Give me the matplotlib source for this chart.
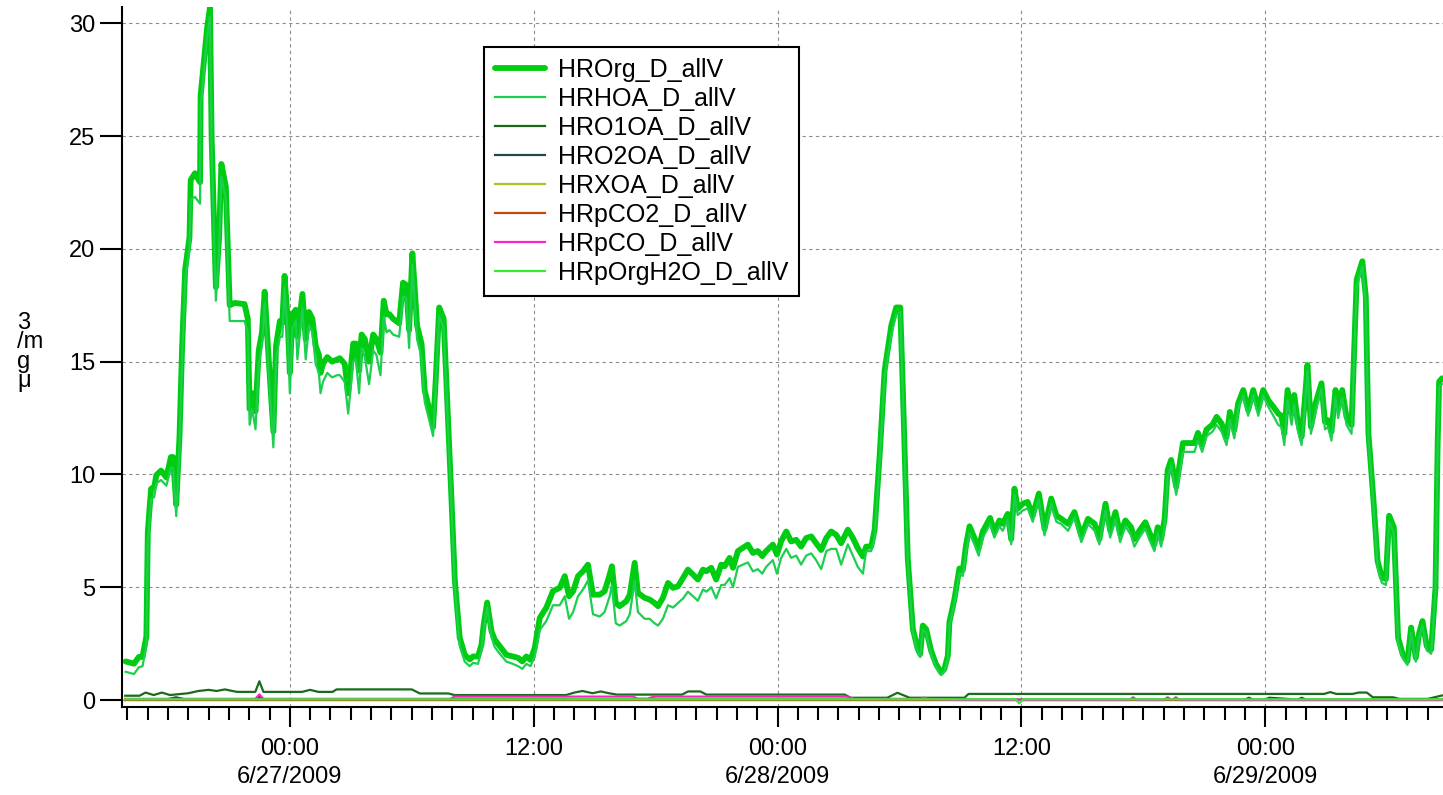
import numpy as np
import pandas as pd
import matplotlib
matplotlib.use("Agg")
import matplotlib.pyplot as plt
import matplotlib.dates as mdates

plt.rcParams['font.family'] = ['Liberation Sans', 'DejaVu Sans']

# time axis: hours relative to 6/27/2009 00:00
t0 = pd.Timestamp("2009-06-27 00:00")

org_hours = [
    -8.08, -7.67, -7.43, -7.25, -7.06, -6.99, -6.83, -6.67, -6.57, -6.34,
    -6.08, -5.85, -5.75, -5.59, -5.43, -5.30, -5.15, -4.94, -4.88, -4.67,
    -4.42, -4.39, -4.07, -3.93, -3.85, -3.64, -3.48, -3.37, -3.15, -2.96,
    -2.72, -2.23, -2.07, -1.98, -1.85, -1.69, -1.53, -1.37, -1.24, -1.04,
    -0.81, -0.68, -0.49, -0.37, -0.26, -0.11, 0.0, 0.13, 0.29, 0.37,
    0.62, 0.78, 0.94, 1.11, 1.27, 1.43, 1.51, 1.63, 1.84, 2.08, 2.33,
    2.46, 2.70, 2.87, 3.12, 3.25, 3.41, 3.53, 3.69, 3.90, 4.10,
    4.26, 4.46, 4.62, 4.76, 4.90, 5.08, 5.38, 5.57, 5.73, 5.87,
    6.03, 6.15, 6.26, 6.48, 6.64, 6.89, 7.05, 7.18, 7.35, 7.57,
    7.74, 7.95, 8.12, 8.36, 8.61, 8.85, 9.02, 9.26, 9.43, 9.54,
    9.71, 9.92, 10.08, 10.33, 10.66, 10.98, 11.23, 11.44, 11.64, 11.84,
    12.05, 12.30, 12.62, 12.95,
    13.28, 13.53, 13.74, 13.94, 14.18, 14.43, 14.67, 14.92, 15.25, 15.49,
    15.74, 15.85, 16.04, 16.23, 16.56, 16.73, 16.97, 17.13, 17.46, 17.71,
    17.95, 18.12, 18.36, 18.61, 18.86, 19.10, 19.35, 19.59, 19.84, 20.08,
    20.33, 20.50, 20.74, 20.98, 21.23, 21.40, 21.64, 21.81, 22.05, 22.30,
    22.54, 22.79, 23.03, 23.25, 23.44, 23.77, 23.97, 24.18,
    24.43, 24.67, 24.92, 25.16, 25.41, 25.66, 25.90, 26.15, 26.40, 26.64,
    26.89, 27.13, 27.46, 27.71, 27.95, 28.20, 28.36, 28.61, 28.78, 29.02,
    29.27, 29.60, 29.84, 30.04, 30.17, 30.41, 30.66, 30.90, 31.02, 31.15,
    31.31, 31.56, 31.80, 32.05, 32.21, 32.38, 32.46, 32.71, 32.95, 33.12,
    33.28, 33.45, 33.69, 33.90, 34.10, 34.46, 34.67,
    34.92, 35.08, 35.33, 35.50, 35.66, 35.82, 36.07, 36.31, 36.56, 36.86,
    37.14, 37.47, 37.72, 37.97, 38.30, 38.61, 38.95, 39.28, 39.61, 39.84,
    40.14, 40.37, 40.63, 40.86, 41.12, 41.40, 41.56, 41.81, 42.10, 42.30,
    42.55, 42.71, 42.88, 43.05, 43.20, 43.37, 43.62, 43.95, 44.52, 44.69,
    44.90, 45.11, 45.41,
    45.61, 45.85, 46.10, 46.26, 46.48, 46.67, 46.92, 47.16, 47.41, 47.66,
    47.90, 48.15, 48.40, 48.64, 48.80, 48.94, 49.10, 49.30, 49.43, 49.59,
    49.79, 49.95, 50.08, 50.25, 50.48, 50.77, 50.94, 51.10, 51.26, 51.46,
    51.59, 51.79, 52.00, 52.25, 52.50, 52.78, 52.95, 53.08, 53.33, 53.53,
    53.74, 53.94, 54.10, 54.33, 54.54, 54.77, 55.00, 55.18, 55.41, 55.58,
    55.74, 55.95, 56.17, 56.38, 56.49, 56.56, 56.70,
]

org_vals = [
    1.71, 1.61, 1.91, 1.91, 2.82, 7.45, 9.36, 9.46, 9.97, 10.17,
    9.87, 10.77, 10.77, 8.66, 11.68, 15.7, 19.1, 20.5, 23.05, 23.35,
    22.95, 26.8, 29.8, 30.7, 24.97, 18.3, 20.5, 23.76, 22.75, 17.5,
    17.6, 17.55, 16.9, 12.9, 13.6, 12.8, 15.5, 16.3, 18.1, 15.1,
    11.9, 15.7, 16.8, 16.7, 18.8, 16.9, 14.5, 17.1, 17.3, 16.1,
    18.0, 16.0, 17.2, 16.9, 15.7, 15.3, 14.5, 14.9, 15.2, 15.0, 15.1,
    15.15, 14.9, 13.6, 15.8, 15.8, 14.6, 16.2, 16.0, 15.0, 16.2,
    16.0, 15.4, 17.7, 17.1, 17.1, 16.9, 16.7, 18.5, 18.4, 16.4,
    19.8, 18.2, 16.6, 15.8, 13.7, 12.8, 12.1, 14.2, 17.4, 16.9,
    13.4, 9.0, 5.3, 2.76, 2.0, 1.8, 1.93, 1.93, 2.45, 3.34,
    4.32, 3.06, 2.68, 2.39, 2.0, 1.93, 1.87, 1.71, 1.93, 1.78,
    2.3, 3.64, 4.09, 4.83,
    4.97, 5.49, 4.6, 4.82, 5.49, 5.71, 6.0, 4.67, 4.67, 4.82,
    5.56, 5.93, 4.30, 4.16, 4.38, 4.67, 6.08, 4.75, 4.53, 4.45,
    4.30, 4.16, 4.53, 5.19, 4.97, 5.04, 5.41, 5.78, 5.56, 5.34,
    5.78, 5.71, 5.86, 5.34, 6.0, 5.93, 6.30, 5.86, 6.60, 6.75,
    6.89, 6.52, 6.60, 6.38, 6.60, 6.89, 6.45, 7.04,
    7.47, 7.03, 7.1, 6.8, 7.18, 7.25, 6.95, 6.65, 7.18, 7.47,
    7.32, 6.95, 7.55, 7.18, 6.73, 6.36, 6.80, 6.80, 7.55, 10.75,
    14.6, 16.6, 17.4, 17.4, 13.7, 6.28, 3.15, 2.26, 2.04, 3.30,
    3.15, 2.18, 1.59, 1.22, 1.37, 1.96, 3.45, 4.49, 5.83, 5.76,
    6.88, 7.70, 7.18, 6.73, 7.47, 8.07, 7.47,
    7.96, 7.81, 8.25, 7.13, 9.37, 8.48, 8.70, 8.78, 8.18, 9.15,
    7.58, 8.93, 8.18, 8.03, 7.81, 8.33, 7.28, 8.03, 7.81, 7.13,
    8.70, 7.51, 8.33, 7.36, 7.96, 7.66, 7.13, 7.51, 7.88, 7.43,
    6.91, 7.66, 7.13, 8.03, 10.19, 10.64, 9.45, 11.39, 11.39, 11.84,
    11.31, 11.99, 12.21,
    12.55, 12.26, 11.66, 12.77, 11.96, 13.15, 13.74, 12.85, 13.74, 12.92,
    13.74, 13.29, 13.0, 12.70, 12.60, 11.81, 13.74, 12.70, 13.52, 12.40,
    11.66, 13.29, 14.85, 12.11, 13.15, 14.04, 12.33, 12.4, 11.88, 13.74,
    12.92, 13.74, 12.55, 12.18, 18.63, 19.45, 17.89, 11.81, 8.84, 6.17,
    5.43, 5.36, 8.17, 7.66, 2.76, 2.02, 1.72, 3.21, 1.87, 2.98,
    3.50, 2.39, 2.24, 4.99, 11.51, 14.11, 14.26,
]

hoa_vals = [
    1.25, 1.15, 1.45, 1.5, 2.4, 7.0, 8.9, 9.0, 9.6, 9.75,
    9.5, 10.3, 10.3, 8.15, 11.2, 15.2, 18.6, 20.0, 22.2, 22.3,
    22.0, 26.3, 29.4, 30.3, 24.4, 17.7, 20.0, 23.2, 22.2, 16.8,
    16.8, 16.8, 16.3, 12.2, 12.9, 12.0, 14.9, 15.7, 17.6, 14.5,
    11.2, 15.1, 16.1, 16.1, 18.3, 16.3, 13.6, 16.5, 16.8, 15.1,
    17.4, 15.1, 16.6, 16.3, 14.9, 14.5, 13.6, 14.1, 14.5, 14.3, 14.4,
    14.4, 14.1, 12.7, 15.0, 15.1, 13.6, 15.6, 15.2, 14.0, 15.5,
    15.3, 14.4, 17.0, 16.3, 16.4, 16.2, 16.1, 17.9, 17.8, 15.6,
    19.3, 17.6, 16.0, 15.2, 13.2, 12.3, 11.7, 13.9, 17.0, 16.5,
    13.0, 8.7, 5.0, 2.4, 1.7, 1.5, 1.65, 1.6, 2.2, 3.1,
    4.1, 2.8, 2.35, 2.05, 1.7, 1.6, 1.5, 1.38, 1.6, 1.5,
    1.9, 3.1, 3.5, 4.2,
    4.2, 4.6, 3.6, 3.9, 4.6, 4.9, 5.3, 3.8, 3.7, 3.9,
    4.6, 5.1, 3.4, 3.3, 3.5, 3.8, 5.3, 3.9, 3.6, 3.6,
    3.4, 3.3, 3.6, 4.2, 4.1, 4.3, 4.5, 4.8, 4.6, 4.4,
    4.9, 4.8, 5.0, 4.5, 5.1, 5.1, 5.4, 5.0, 5.9, 6.0,
    6.1, 5.7, 5.8, 5.6, 5.9, 6.2, 5.6, 6.3,
    6.7, 6.3, 6.4, 6.0, 6.4, 6.5, 6.2, 5.8, 6.6, 6.7,
    6.7, 6.0, 6.9, 6.4, 5.9, 5.6, 6.6, 6.6, 7.2, 10.5,
    14.3, 16.2, 17.1, 17.2, 13.4, 6.1, 3.0, 2.1, 1.9, 3.1,
    3.0, 2.0, 1.45, 1.1, 1.25, 1.8, 3.3, 4.3, 5.6, 5.5,
    6.6, 7.4, 6.9, 6.4, 7.2, 7.8, 7.2,
    7.7, 7.5, 8.0, 6.9, 9.1, 8.2, 8.4, 8.5, 7.9, 8.9,
    7.3, 8.7, 7.9, 7.8, 7.5, 8.1, 7.0, 7.8, 7.5, 6.9,
    8.4, 7.2, 8.0, 7.0, 7.7, 7.3, 6.8, 7.2, 7.6, 7.1,
    6.6, 7.4, 6.8, 7.7, 9.9, 10.4, 9.1, 11.0, 11.0, 11.5,
    11.0, 11.7, 11.9,
    12.2, 11.9, 11.3, 12.4, 11.6, 12.9, 13.5, 12.6, 13.5, 12.6,
    13.5, 13.0, 12.6, 12.2, 12.1, 11.3, 13.3, 12.2, 13.1, 12.0,
    11.3, 13.0, 14.6, 11.8, 12.8, 13.8, 12.0, 12.1, 11.5, 13.4,
    12.5, 13.4, 12.2, 11.8, 18.3, 19.2, 17.6, 11.6, 8.6, 5.9,
    5.2, 5.1, 7.9, 7.4, 2.55, 1.85, 1.55, 3.0, 1.7, 2.8,
    3.3, 2.2, 2.05, 4.8, 11.3, 13.9, 14.0,
]

o1_hours = [-8.1, -7.4, -7.1, -6.7, -6.3, -5.9, -5.0, -4.5, -4.0, -3.6,
            -3.2, -2.6, -1.7, -1.5, -1.3, 0.6, 1.0, 1.4, 2.1, 2.3,
            6.0, 6.4, 7.8, 8.1, 13.6, 14.0, 14.4, 14.9, 15.3, 15.7,
            16.1, 19.3, 19.6, 20.2, 20.5, 27.3, 27.6, 29.4, 29.9, 30.5,
            31.0, 33.2, 33.4, 35.2, 35.5, 50.9, 51.2, 51.5, 52.3, 52.6,
            53.0, 53.3, 54.3, 54.6, 56.0, 56.7]
o1_vals = [0.19, 0.19, 0.33, 0.22, 0.33, 0.22, 0.30, 0.40, 0.45, 0.40,
           0.47, 0.36, 0.36, 0.83, 0.36, 0.36, 0.45, 0.36, 0.36, 0.47,
           0.47, 0.29, 0.29, 0.22, 0.22, 0.33, 0.40, 0.30, 0.38, 0.30,
           0.24, 0.24, 0.38, 0.38, 0.24, 0.24, 0.10, 0.10, 0.32, 0.10,
           0.10, 0.10, 0.27, 0.27, 0.27, 0.27, 0.35, 0.27, 0.27, 0.33,
           0.33, 0.12, 0.12, 0.05, 0.05, 0.20]

o2_hours = [-8.1, -6.0, -5.6, -5.2, -1.6, -1.5, -1.4, 10.0, 13.5, 14.0,
            47.0, 47.2, 47.4, 48.0, 48.2, 49.6, 49.8, 50.0, 56.7]
o2_vals = [0.04, 0.04, 0.12, 0.04, 0.04, 0.15, 0.04, 0.04, 0.04, 0.02,
           0.02, 0.10, 0.02, 0.02, 0.10, 0.02, 0.10, 0.02, 0.02]

xoa_hours = [-8.1, 56.7]
xoa_vals = [0.0, 0.0]

pco2_hours = [-8.1, 56.7]
pco2_vals = [0.02, 0.02]

pco_hours = [-8.1, -1.7, -1.5, -1.3, 7.9, 8.1, 16.9, 17.1, 17.6, 17.8,
             18.0, 27.4, 27.8, 31.0, 31.2, 31.4, 33.0, 41.3, 41.5, 41.7,
             43.0, 43.2, 43.4, 43.6, 43.8, 56.7]
pco_vals = [0.05, 0.05, 0.25, 0.05, 0.05, 0.15, 0.15, 0.06, 0.06, 0.12,
            0.15, 0.15, 0.05, 0.05, 0.10, 0.05, 0.0, 0.0, 0.12, 0.0,
            0.0, 0.12, 0.0, 0.12, 0.0, 0.0]

h2o_hours = [-8.1, 35.7, 35.9, 36.1, 56.7]
h2o_vals = [0.03, 0.03, -0.15, 0.03, 0.03]


def to_time(hours):
    return t0 + pd.to_timedelta(np.asarray(hours), unit="h")


W, H = 1443, 795
fig = plt.figure(figsize=(W / 100, H / 100), dpi=100)
ax = fig.add_axes([122 / W, 1 - 707 / H, (W - 122) / W, 700 / H])

org_t = to_time(org_hours)
ax.plot(org_t, org_vals, color='#00cc11', lw=4.2, solid_capstyle='round',
        solid_joinstyle='round', label='HROrg_D_allV')
ax.plot(org_t, hoa_vals, color='#1ccf4f', lw=1.6, label='HRHOA_D_allV')
ax.plot(to_time(o1_hours), o1_vals, color='#1a6b1a', lw=1.6, label='HRO1OA_D_allV')
ax.plot(to_time(o2_hours), o2_vals, color='#1e4a4a', lw=1.6, label='HRO2OA_D_allV')
ax.plot(to_time(xoa_hours), xoa_vals, color='#a8c828', lw=1.6, label='HRXOA_D_allV')
ax.plot(to_time(pco2_hours), pco2_vals, color='#cc4410', lw=1.6, label='HRpCO2_D_allV')
ax.plot(to_time(pco_hours), pco_vals, color='#ff22cc', lw=1.6, label='HRpCO_D_allV')
ax.plot(to_time(h2o_hours), h2o_vals, color='#33ee33', lw=1.6, label='HRpOrgH2O_D_allV')

ax.set_xlim(to_time([-8.26])[0], to_time([56.75])[0])
ax.set_ylim(-0.31, 30.72)

for s in ['top', 'right']:
    ax.spines[s].set_visible(False)
for s in ['left', 'bottom']:
    ax.spines[s].set_linewidth(1.5)

ax.set_yticks(range(0, 31, 5))
ax.tick_params(axis='y', direction='out', length=16, width=1.5, labelsize=17, pad=3)

ax.xaxis.set_major_locator(mdates.HourLocator(byhour=[0, 12]))
ax.xaxis.set_minor_locator(mdates.HourLocator(interval=1))


def fmt_time(x, pos=None):
    d = mdates.num2date(x)
    if d.hour == 0:
        return "00:00\n%d/%d/%d" % (d.month, d.day, d.year)
    return d.strftime("%H:%M")


ax.xaxis.set_major_formatter(plt.FuncFormatter(fmt_time))
ax.tick_params(axis='x', which='major', direction='out', length=14.5, width=1.5,
               labelsize=17, pad=8)
ax.tick_params(axis='x', which='minor', direction='out', length=9, width=1.5)

ax.set_axisbelow(True)
ax.grid(True, which='major', color='#8c8c8c', linestyle=(0, (3, 3)), linewidth=0.8)

leg = ax.legend(loc='upper left', bbox_to_anchor=(0.274, 0.943), borderaxespad=0,
                fontsize=18, handlelength=2.0, handletextpad=0.5, labelspacing=0.2,
                borderpad=0.45, fancybox=False, framealpha=1, edgecolor='black')
leg.get_frame().set_linewidth(1.5)

# Igor-style stacked unit label (characters upright, stacked)
fig.text(17 / W, 1 - 352 / H, "3\n/m\ng\n\u03bc", fontsize=17, ha='left', va='center',
         linespacing=0.85, multialignment='left')

# a bit more room between time and date lines
fig.canvas.draw()
for tick in ax.xaxis.get_major_ticks():
    tick.label1.set_linespacing(1.35)

fig.savefig("out.png", dpi=100)
